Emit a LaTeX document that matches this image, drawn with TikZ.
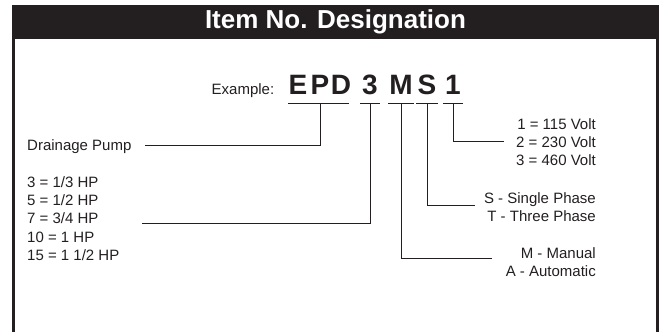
\documentclass[tikz,border=0pt]{standalone}
\usepackage{fontspec}
\setmainfont{Liberation Sans}
\usetikzlibrary{positioning}
\definecolor{ink}{HTML}{231F20}

\begin{document}
\begin{tikzpicture}[
  x=1pt, y=-1pt,
  font=\fontsize{15}{18.3}\selectfont,
  text=ink,
  band/.style={fill=ink, text=white, inner sep=0pt, minimum width=647pt, minimum height=34pt,
               font=\fontsize{26}{26}\selectfont\bfseries},
  side/.style={draw=ink, line width=3pt},
  code/.style={inner sep=0pt, anchor=base, font=\fontsize{28}{28}\selectfont\bfseries},
  desc/.style={inner sep=0pt, align=left, anchor=north west},
  descr/.style={inner sep=0pt, align=right, anchor=north east},
  conn/.style={draw=ink, line width=1pt}
]
\useasboundingbox (0,0) rectangle (659,332);

% frame and heading
\node[band] (title) at (335.5,22) {Item No. Designation};
\draw[side] (13.5,39) -- (13.5,332);
\draw[side] (657.5,39) -- (657.5,332);

% the example number
\node[code] (cE) at (298,94.5) {E};
\node[code] (cP) at (320,94.5) {P};
\node[code] (cD) at (341,94.5) {D};
\node[code] (c3) at (370,94.5) {3};
\node[code] (cM) at (401,94.5) {M};
\node[code] (cS) at (427,94.5) {S};
\node[code] (c1) at (453,94.5) {1};
\node[base left=14pt of cE, inner sep=0pt] (ex) {Example:};

% what each part means
\node[inner sep=0pt, anchor=base west] (pump) at (27,150) {Drainage Pump};
\node[desc] (hp) at (27,176.3) {3 = 1/3 HP\\5 = 1/2 HP\\7 = 3/4 HP\\10 = 1 HP\\15 = 1 1/2 HP};
\node[descr] (volt) at (596,118.2) {1 = 115 Volt\\2 = 230 Volt\\3 = 460 Volt};
\node[descr] (phase) at (596,192.2) {S - Single Phase\\T - Three Phase};
\node[descr] (mode) at (596,247.2) {M - Manual\\A - Automatic};

\coordinate (pumpEnd) at (145,145);
\coordinate (hpEnd) at (142,223);
\coordinate (voltEnd) at (504,141);
\coordinate (phaseEnd) at (475,205);
\coordinate (modeEnd) at (492,258);

% underlines
\draw[conn] ([shift={(0pt,-8.5pt)}]cE.base west) -- ([shift={(-2pt,-8.5pt)}]cD.base east);
\draw[conn] ([shift={(-2pt,-8.5pt)}]c3.base west) -- ([shift={(2pt,-8.5pt)}]c3.base east);
\draw[conn] ([shift={(-1pt,-8.5pt)}]cM.base west) -- ([shift={(1pt,-8.5pt)}]cM.base east);
\draw[conn] ([shift={(-1pt,-8.5pt)}]cS.base west) -- ([shift={(1pt,-8.5pt)}]cS.base east);
\draw[conn] ([shift={(-2pt,-8.5pt)}]c1.base west) -- ([shift={(2pt,-8.5pt)}]c1.base east);

% leaders
\draw[conn] ([yshift=-8.5pt]cP.base) |- (pumpEnd);
\draw[conn] ([yshift=-8.5pt]c3.base) |- (hpEnd);
\draw[conn] ([yshift=-8.5pt]c1.base) |- (voltEnd);
\draw[conn] ([yshift=-8.5pt]cS.base) |- (phaseEnd);
\draw[conn] ([yshift=-8.5pt]cM.base) |- (modeEnd);

\end{tikzpicture}
\end{document}
